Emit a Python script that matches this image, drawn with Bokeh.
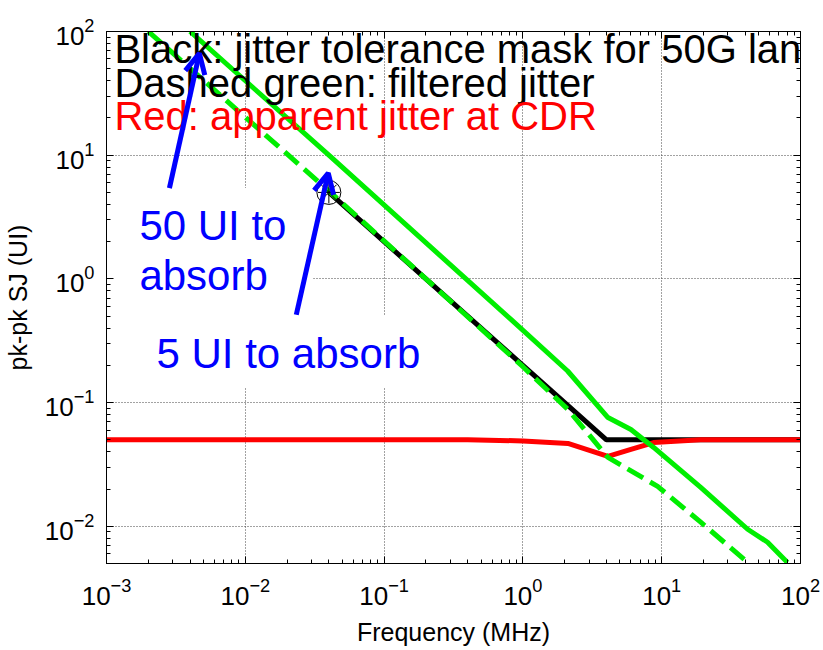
from bokeh.plotting import figure
from bokeh.models import Label, Arrow, OpenHead, LogAxis, FixedTicker, BoxAnnotation
from bokeh.embed import file_html
from bokeh.resources import INLINE

# ---- data ----
x_lim = [1e-3, 1e2]
y_lim = [0.005, 100.0]

mask_f = [0.04, 4.0, 100.0]
mask_ui = [5.0, 0.05, 0.05]

red_f = [0.001, 0.4, 1.0, 2.11, 4.1, 6.0, 8.75, 19.1, 100.0]
red_ui = [0.05, 0.05, 0.049, 0.0467, 0.0367, 0.0418, 0.0475, 0.05, 0.05]

dash_f = [0.002, 0.0416, 1.0, 2.11, 4.1, 9.35, 19.1, 41.6]
dash_ui = [100.0, 4.94, 0.195, 0.088, 0.036, 0.021, 0.0108, 0.0051]

solid_f = [0.004, 0.04, 0.82, 2.1, 4.1, 6.0, 8.75, 19.1, 41.6, 57.9, 80.5]
solid_ui = [100.0, 10.0, 0.47, 0.18, 0.0757, 0.0605, 0.0434, 0.0206, 0.00946, 0.00743, 0.0051]

x_major = [1e-3, 1e-2, 1e-1, 1e0, 1e1, 1e2]
y_major = [1e-2, 1e-1, 1e0, 1e1, 1e2]
x_minor = [m * 10.0 ** e for e in range(-3, 2) for m in range(2, 10)]
y_minor = [m * 1e-3 for m in range(5, 10)] + [m * 10.0 ** e for e in range(-2, 2) for m in range(2, 10)]

# annotation texts and positions (data coordinates, text centre line)
legend_lines = ["Black: jitter tolerance mask for 50G lane",
                "Dashed green: filtered jitter",
                "Red: apparent jitter at CDR"]
legend_colors = ["black", "black", "red"]
legend_x = 1.14e-3
legend_y = [71.6, 38.1, 20.6]

blue_texts = ["50 UI to", "absorb", "5 UI to absorb"]
blue_x = [1.726e-3, 1.726e-3, 2.29e-3]
blue_y = [2.705, 1.069, 0.251]

# white background boxes behind the blue texts: (left, right, bottom, top)
blue_boxes = [(1.017e-3, 0.0308, 0.503, 5.42), (1.02e-3, 0.218, 0.132, 0.503)]

arrow1 = dict(x_start=0.00284, y_start=5.42, x_end=0.00467, y_end=66.6)
arrow2 = dict(x_start=0.0233, y_start=0.513, x_end=0.0396, y_end=7.16)

FONT = "Liberation Sans"

p = figure(width=823, height=650, x_axis_type="log", y_axis_type="log",
           x_range=(x_lim[0], x_lim[1]), y_range=(y_lim[0], y_lim[1]),
           output_backend="svg", toolbar_location=None,
           min_border_left=105, min_border_right=23,
           min_border_top=31, min_border_bottom=87)
p.background_fill_color = "white"
p.border_fill_color = "white"
p.outline_line_color = "black"
p.outline_line_width = 1

for ax, maj, mnr in ((p.xaxis[0], x_major, x_minor), (p.yaxis[0], y_major, y_minor)):
    ax.ticker = FixedTicker(ticks=maj, minor_ticks=mnr)
    ax.major_tick_in = 7
    ax.major_tick_out = 0
    ax.minor_tick_in = 4
    ax.minor_tick_out = 0
    ax.axis_line_color = "black"
    ax.major_tick_line_color = "black"
    ax.minor_tick_line_color = "black"
    ax.major_label_text_font = FONT
    ax.major_label_text_font_size = "26px"
    ax.major_label_text_color = "black"
    ax.axis_label_text_font = FONT
    ax.axis_label_text_font_size = "25px"
    ax.axis_label_text_font_style = "normal"
    ax.axis_label_text_color = "black"

p.xaxis.axis_label = "Frequency (MHz)"
p.yaxis.axis_label = "pk-pk SJ (UI)"
p.xaxis.major_label_standoff = 14
p.yaxis.major_label_standoff = 12
p.xaxis.axis_label_standoff = 10
p.yaxis.axis_label_standoff = 10

# mirrored axes (box on)
top = LogAxis(ticker=FixedTicker(ticks=x_major, minor_ticks=x_minor),
              major_label_text_font_size="1px", major_label_text_alpha=0.0,
              major_label_standoff=0,
              major_tick_in=7, major_tick_out=0, minor_tick_in=4, minor_tick_out=0,
              axis_line_color="black")
right = LogAxis(ticker=FixedTicker(ticks=y_major, minor_ticks=y_minor),
                major_label_text_font_size="1px", major_label_text_alpha=0.0,
                major_label_standoff=0,
                major_tick_in=7, major_tick_out=0, minor_tick_in=4, minor_tick_out=0,
                axis_line_color="black")
p.add_layout(top, "above")
p.add_layout(right, "right")

p.xgrid.grid_line_color = "#444444"
p.ygrid.grid_line_color = "#444444"
p.xgrid.grid_line_dash = "1 2"
p.ygrid.grid_line_dash = "1 2"
p.xgrid.grid_line_width = 1
p.ygrid.grid_line_width = 1

# white boxes behind the blue notes (above grid, below axes)
for (l, r, b, t) in blue_boxes:
    p.add_layout(BoxAnnotation(left=l, right=r, bottom=b, top=t,
                               fill_color="white", fill_alpha=1.0,
                               line_color=None, level="underlay"))

# curves
p.line(mask_f, mask_ui, line_color="black", line_width=5)
p.line(red_f, red_ui, line_color="red", line_width=5)
p.line(dash_f, dash_ui, line_color="#00ee00", line_width=5, line_dash="18 8")
p.line(solid_f, solid_ui, line_color="#00ee00", line_width=5)
p.scatter([mask_f[0]], [mask_ui[0]], marker="circle", size=24,
          fill_color=None, line_color="black", line_width=1)
p.scatter([mask_f[0]], [mask_ui[0]], marker="asterisk", size=22,
          line_color="black", line_width=1)

for txt, xx, yy in zip(blue_texts, blue_x, blue_y):
    p.add_layout(Label(x=xx, y=yy, text=txt, text_font=FONT, text_font_size="42px",
                       text_color="blue", text_baseline="middle"))

for txt, col, yy in zip(legend_lines, legend_colors, legend_y):
    p.add_layout(Label(x=legend_x, y=yy, text=txt, text_font=FONT, text_font_size="40px",
                       text_color=col, text_baseline="middle"))

for a in (arrow1, arrow2):
    p.add_layout(Arrow(end=OpenHead(size=20, line_width=5, line_color="blue"),
                       line_color="blue", line_width=5, **a))

open("out.html", "w").write(file_html(p, INLINE))
